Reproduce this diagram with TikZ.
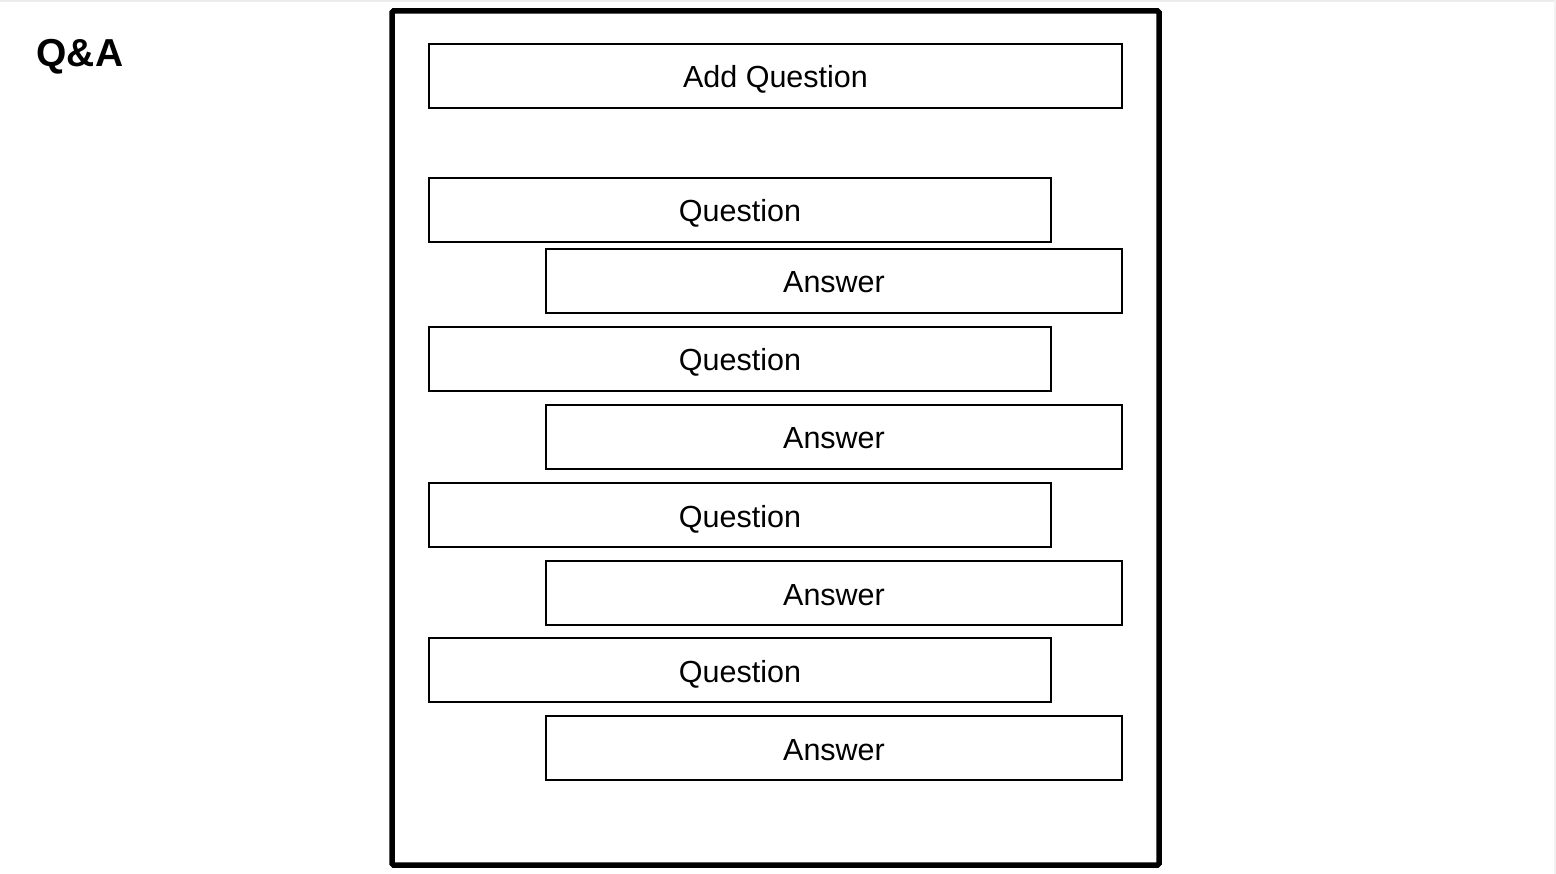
\documentclass[tikz,border=0pt]{standalone}
\usepackage{fontspec}
\setmainfont{Liberation Sans}
\begin{document}
\begin{tikzpicture}[x=1pt,y=-1pt,
  box/.style={draw=black,line width=1.3pt,inner sep=0pt,text height=24pt,text depth=0pt,font=\fontsize{30.5}{34}\selectfont},
  frame/.style={draw=black,line width=5.5pt,rounded corners=1.5pt}]
\useasboundingbox (0,0) rectangle (1556,874);
\fill[white] (0,0) rectangle (1556,874);
\draw[black!8,line width=2pt] (0,1) -- (1556,1);
\draw[black!5,line width=2pt] (1555,0) -- (1555,874);
\node[anchor=base west,font=\bfseries\fontsize{39}{44}\selectfont] (title) at (33,67) {Q\&A};
\draw[frame] (392,11) rectangle (1159,865);
\node[box,minimum width=693pt,minimum height=64pt] (add) at (775.5,76) {Add Question};
\foreach \i/\qy/\ay in {1/210/281,2/359/437,3/515/593,4/670/748}{
  \node[box,minimum width=622pt,minimum height=64pt] (q\i) at (740,\qy) {Question};
  \node[box,minimum width=576pt,minimum height=64pt] (a\i) at (834,\ay) {Answer};
}
\end{tikzpicture}
\end{document}
